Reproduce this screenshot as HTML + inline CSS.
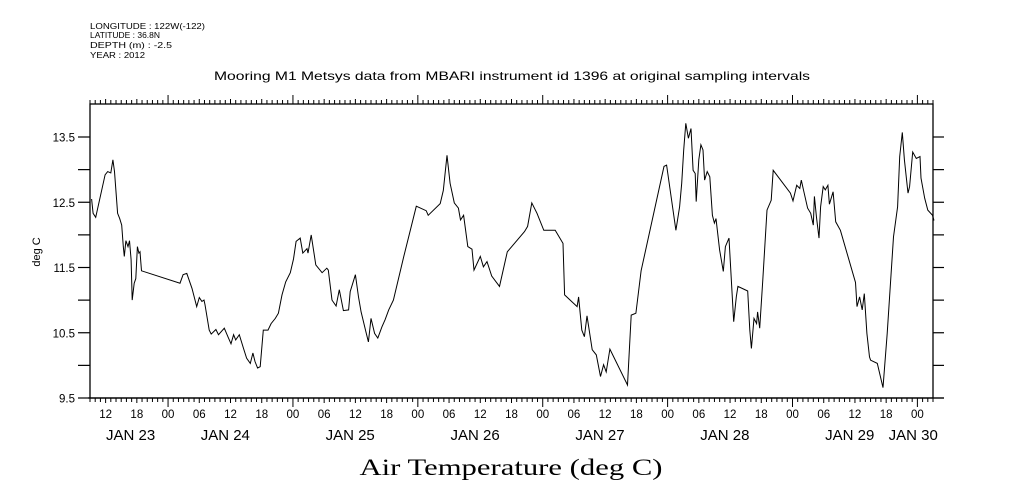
<!DOCTYPE html>
<html><head><meta charset="utf-8"><style>
html,body{margin:0;padding:0;background:#fff;}
svg{display:block;font-family:"Liberation Sans",sans-serif;}
</style></head><body>
<svg id="chart" width="1009" height="504" viewBox="0 0 1009 504" xmlns="http://www.w3.org/2000/svg">
<rect width="1009" height="504" fill="#fff"/>
<g font-size="8.5" fill="#000">
<text x="90" y="29" textLength="115" lengthAdjust="spacingAndGlyphs">LONGITUDE : 122W(-122)</text>
<text x="90" y="38" textLength="70" lengthAdjust="spacingAndGlyphs">LATITUDE : 36.8N</text>
<text x="90" y="48" textLength="82" lengthAdjust="spacingAndGlyphs">DEPTH (m) : -2.5</text>
<text x="90" y="58" textLength="55" lengthAdjust="spacingAndGlyphs">YEAR : 2012</text>
</g>
<text x="512" y="80" font-size="12" text-anchor="middle" textLength="596" lengthAdjust="spacingAndGlyphs">Mooring M1 Metsys data from MBARI instrument id 1396 at original sampling intervals</text>
<text x="511" y="475" font-family="Liberation Serif, serif" font-size="23" text-anchor="middle" textLength="303" lengthAdjust="spacingAndGlyphs">Air Temperature (deg C)</text>
<text transform="translate(40,252) rotate(-90)" font-size="11" text-anchor="middle">deg C</text>
<g id="axes"></g>
<g id="plot"></g>
</svg>
<script>
// hours since Jan 23 2012 00:00
const hours = [9.3,9.6,10.1,11.9,12.4,13.0,13.4,13.7,14.3,14.7,15.1,15.4,15.6,15.9,16.3,16.6,16.9,17.1,17.5,17.8,18.1,18.4,18.6,18.9,26.3,26.9,27.6,28.6,29.5,30.0,30.5,30.9,31.1,31.9,32.3,33.2,33.7,34.8,35.5,36.1,36.6,37.0,37.7,38.5,39.1,39.8,40.3,40.7,41.2,41.7,42.3,43.2,43.8,44.6,45.2,45.9,46.6,47.5,48.1,48.6,49.4,49.9,50.7,50.9,51.5,52.4,53.6,54.5,54.8,55.5,56.3,56.9,57.7,58.7,59.0,60.0,60.6,61.1,62.0,62.5,63.0,63.7,64.3,65.1,65.7,66.4,67.3,69.3,71.7,73.6,74.0,76.3,76.9,77.6,78.2,79.0,79.8,80.2,80.8,81.6,82.4,82.8,84.0,84.6,85.3,86.2,87.7,89.2,92.5,93.1,93.9,94.9,96.2,98.4,99.9,100.2,102.6,102.9,103.5,104.0,104.5,105.5,106.3,107.1,107.7,108.2,108.9,112.3,113.0,113.9,114.9,119.3,119.8,121.6,122.3,122.7,123.1,123.5,124.0,124.5,124.9,125.3,125.5,126.0,126.4,126.8,127.1,127.6,128.1,128.6,129.0,129.3,130.0,130.7,131.1,131.8,132.1,132.4,132.7,133.2,133.5,135.4,135.8,136.1,136.6,137.1,137.3,137.7,138.3,139.1,139.9,140.3,143.6,144.1,144.8,145.4,145.7,146.2,146.9,147.5,148.0,148.2,148.6,149.1,149.4,149.9,150.3,150.8,151.1,151.8,152.3,153.2,156.1,156.4,156.9,157.4,157.8,158.3,158.8,159.0,160.3,161.4,162.2,163.4,164.2,164.6,165.1,165.5,166.2,166.5,167.1,167.8,168.5,168.7,169.4,170.0,170.9,171.2];
const temps = [12.55,12.33,12.27,12.92,12.97,12.95,13.15,12.97,12.33,12.25,12.15,11.82,11.67,11.91,11.82,11.91,11.62,11.00,11.26,11.33,11.82,11.72,11.74,11.45,11.26,11.39,11.41,11.18,10.90,11.04,10.98,11.00,10.93,10.54,10.48,10.55,10.47,10.57,10.44,10.33,10.47,10.39,10.47,10.26,10.11,10.03,10.19,10.06,9.96,9.98,10.54,10.54,10.64,10.72,10.80,11.08,11.28,11.42,11.63,11.90,11.95,11.72,11.79,11.72,12.00,11.54,11.42,11.49,11.46,11.00,10.91,11.16,10.84,10.85,11.13,11.39,11.05,10.82,10.52,10.36,10.72,10.49,10.42,10.59,10.70,10.85,11.00,11.67,12.44,12.37,12.30,12.48,12.68,13.22,12.79,12.49,12.41,12.23,12.30,11.82,11.78,11.46,11.67,11.51,11.59,11.37,11.21,11.74,12.05,12.13,12.49,12.33,12.07,12.07,11.87,11.08,10.90,11.05,10.54,10.44,10.76,10.24,10.16,9.83,10.01,9.90,10.25,9.70,10.77,10.80,11.45,13.05,13.07,12.07,12.43,12.79,13.30,13.71,13.48,13.63,12.99,12.94,12.51,13.15,13.38,13.30,12.84,12.97,12.89,12.30,12.18,12.25,11.77,11.44,11.82,11.95,11.51,11.10,10.67,11.05,11.21,11.14,10.54,10.26,10.72,10.64,10.82,10.57,11.31,12.38,12.53,12.99,12.64,12.52,12.76,12.71,12.84,12.66,12.41,12.33,12.15,12.59,12.28,11.95,12.43,12.74,12.69,12.76,12.47,12.66,12.20,12.07,11.27,10.90,11.05,10.85,11.10,10.49,10.13,10.08,10.03,9.66,10.49,11.97,12.43,13.20,13.57,13.15,12.64,12.74,13.27,13.17,13.20,12.87,12.56,12.38,12.30,12.22];
const yTicks = [9.5,10.0,10.5,11.0,11.5,12.0,12.5,13.0,13.5];
const yTickLabels = ["9.5","","10.5","","11.5","","12.5","","13.5"];
const hourLabels = ["00","06","12","18"];
const dayNames = ["JAN 23","JAN 24","JAN 25","JAN 26","JAN 27","JAN 28","JAN 29","JAN 30"];

const NS = "http://www.w3.org/2000/svg";
const L = 90, R = 933, T = 104, B = 398;
const hMin = 9, hMax = 171, vMin = 9.5, vMax = 14.0;
const yV = v => B - (v - vMin) * 65.25;
const xH = h => L + (h - hMin) * (R - L) / (hMax - hMin);
const axes = document.getElementById('axes');
const plot = document.getElementById('plot');
function mk(tag, attrs, parent){ const e = document.createElementNS(NS, tag); for (const k in attrs) e.setAttribute(k, attrs[k]); parent.appendChild(e); return e; }

let fr = mk('rect', {x:L, y:T, width:R-L, height:B-T, fill:'none', stroke:'#000', 'stroke-width':1.3}, axes);


let ext = mk('line', {x1:L-2, y1:B, x2:R+11, y2:B, stroke:'#000', 'stroke-width':1.3}, axes);



yTicks.forEach((v, i) => {
  const y = yV(v);
  const t1 = mk('line', {x1:L-12, y1:y, x2:L, y2:y, stroke:'#000', 'stroke-width':1.2}, axes);
  
  
  const t2 = mk('line', {x1:R, y1:y, x2:R+11, y2:y, stroke:'#000', 'stroke-width':1.2}, axes);
  
  
  if (yTickLabels[i]) {
    const tx = mk('text', {x:75, y:y+4.5, 'font-size':11.5, 'text-anchor':'end'}, axes);
    tx.textContent = yTickLabels[i];
    
    
  }
});

for (let h = Math.ceil(hMin); h <= hMax; h++) {
  const x = xH(h);
  const major = h % 24 === 0;
  const mid = h % 6 === 0;
  const len = major ? 9 : (mid ? 5 : 4);
  const b = mk('line', {x1:x, y1:B, x2:x, y2:B+len, stroke:'#000', 'stroke-width':1}, axes);
  
  
  const t = mk('line', {x1:x, y1:T, x2:x, y2:T-len, stroke:'#000', 'stroke-width':1}, axes);
  
  
  if (mid) {
    const tx = mk('text', {x:x, y:418, 'font-size':11.5, 'text-anchor':'middle'}, axes);
    tx.textContent = hourLabels[(h % 24) / 6];
    
    
  }
}
dayNames.forEach((d, i) => {
  let h = i * 24 + 11;
  if (i === 0) h = 16.8;
  if (i === dayNames.length - 1) h = i * 24 - 0.8;
  const tx = mk('text', {x:xH(h), y:440, 'font-size':15, 'text-anchor':'middle'}, axes);
  tx.textContent = d;
  
  
});

const pts = hours.map((h, i) => xH(h).toFixed(1) + ',' + yV(temps[i]).toFixed(1)).join(' ');
const line = mk('polyline', {points:pts, fill:'none', stroke:'#000', 'stroke-width':1, 'stroke-linejoin':'miter'}, plot);


</script>
</body></html>
